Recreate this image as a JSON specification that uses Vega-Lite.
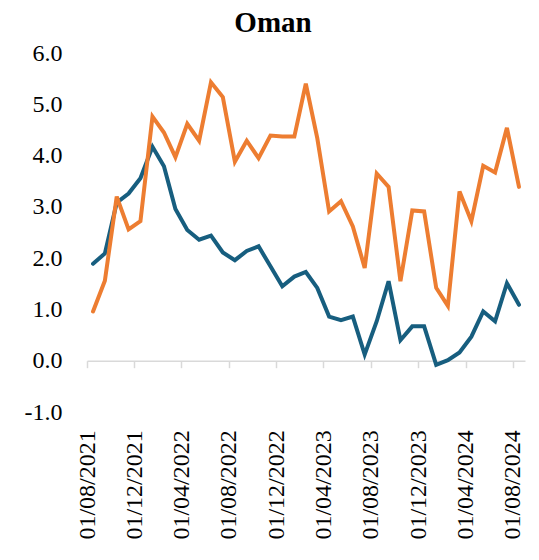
{
  "$schema": "https://vega.github.io/schema/vega-lite/v6.json",
  "autosize": "none",
  "width": 438,
  "height": 359,
  "padding": {"left": 87, "top": 53, "right": 14, "bottom": 148},
  "background": "white",
  "title": {"text": "Oman", "font": "Liberation Serif", "fontSize": 29, "fontWeight": "bold", "color": "black", "anchor": "middle", "frame": "group", "dx": -33, "offset": 3},
  "config": {"view": {"stroke": null}},
  "data": {"values": [
    {"date": "2021-08-01", "series": "Series 1", "value": 1.89},
    {"date": "2021-09-01", "series": "Series 1", "value": 2.09},
    {"date": "2021-10-01", "series": "Series 1", "value": 3.08},
    {"date": "2021-11-01", "series": "Series 1", "value": 3.26},
    {"date": "2021-12-01", "series": "Series 1", "value": 3.56},
    {"date": "2022-01-01", "series": "Series 1", "value": 4.17},
    {"date": "2022-02-01", "series": "Series 1", "value": 3.79},
    {"date": "2022-03-01", "series": "Series 1", "value": 2.96},
    {"date": "2022-04-01", "series": "Series 1", "value": 2.55},
    {"date": "2022-05-01", "series": "Series 1", "value": 2.36},
    {"date": "2022-06-01", "series": "Series 1", "value": 2.44},
    {"date": "2022-07-01", "series": "Series 1", "value": 2.11},
    {"date": "2022-08-01", "series": "Series 1", "value": 1.96},
    {"date": "2022-09-01", "series": "Series 1", "value": 2.14},
    {"date": "2022-10-01", "series": "Series 1", "value": 2.23},
    {"date": "2022-11-01", "series": "Series 1", "value": 1.84},
    {"date": "2022-12-01", "series": "Series 1", "value": 1.45},
    {"date": "2023-01-01", "series": "Series 1", "value": 1.64},
    {"date": "2023-02-01", "series": "Series 1", "value": 1.73},
    {"date": "2023-03-01", "series": "Series 1", "value": 1.42},
    {"date": "2023-04-01", "series": "Series 1", "value": 0.86},
    {"date": "2023-05-01", "series": "Series 1", "value": 0.79},
    {"date": "2023-06-01", "series": "Series 1", "value": 0.86},
    {"date": "2023-07-01", "series": "Series 1", "value": 0.12},
    {"date": "2023-08-01", "series": "Series 1", "value": 0.77},
    {"date": "2023-09-01", "series": "Series 1", "value": 1.55},
    {"date": "2023-10-01", "series": "Series 1", "value": 0.40},
    {"date": "2023-11-01", "series": "Series 1", "value": 0.67},
    {"date": "2023-12-01", "series": "Series 1", "value": 0.67},
    {"date": "2024-01-01", "series": "Series 1", "value": -0.08},
    {"date": "2024-02-01", "series": "Series 1", "value": 0.01},
    {"date": "2024-03-01", "series": "Series 1", "value": 0.16},
    {"date": "2024-04-01", "series": "Series 1", "value": 0.47},
    {"date": "2024-05-01", "series": "Series 1", "value": 0.96},
    {"date": "2024-06-01", "series": "Series 1", "value": 0.77},
    {"date": "2024-07-01", "series": "Series 1", "value": 1.51},
    {"date": "2024-08-01", "series": "Series 1", "value": 1.09},
    {"date": "2021-08-01", "series": "Series 2", "value": 0.96},
    {"date": "2021-09-01", "series": "Series 2", "value": 1.56},
    {"date": "2021-10-01", "series": "Series 2", "value": 3.20},
    {"date": "2021-11-01", "series": "Series 2", "value": 2.56},
    {"date": "2021-12-01", "series": "Series 2", "value": 2.72},
    {"date": "2022-01-01", "series": "Series 2", "value": 4.76},
    {"date": "2022-02-01", "series": "Series 2", "value": 4.45},
    {"date": "2022-03-01", "series": "Series 2", "value": 3.97},
    {"date": "2022-04-01", "series": "Series 2", "value": 4.62},
    {"date": "2022-05-01", "series": "Series 2", "value": 4.29},
    {"date": "2022-06-01", "series": "Series 2", "value": 5.43},
    {"date": "2022-07-01", "series": "Series 2", "value": 5.14},
    {"date": "2022-08-01", "series": "Series 2", "value": 3.88},
    {"date": "2022-09-01", "series": "Series 2", "value": 4.29},
    {"date": "2022-10-01", "series": "Series 2", "value": 3.95},
    {"date": "2022-11-01", "series": "Series 2", "value": 4.39},
    {"date": "2022-12-01", "series": "Series 2", "value": 4.37},
    {"date": "2023-01-01", "series": "Series 2", "value": 4.37},
    {"date": "2023-02-01", "series": "Series 2", "value": 5.40},
    {"date": "2023-03-01", "series": "Series 2", "value": 4.34},
    {"date": "2023-04-01", "series": "Series 2", "value": 2.91},
    {"date": "2023-05-01", "series": "Series 2", "value": 3.11},
    {"date": "2023-06-01", "series": "Series 2", "value": 2.62},
    {"date": "2023-07-01", "series": "Series 2", "value": 1.81},
    {"date": "2023-08-01", "series": "Series 2", "value": 3.65},
    {"date": "2023-09-01", "series": "Series 2", "value": 3.39},
    {"date": "2023-10-01", "series": "Series 2", "value": 1.55},
    {"date": "2023-11-01", "series": "Series 2", "value": 2.93},
    {"date": "2023-12-01", "series": "Series 2", "value": 2.91},
    {"date": "2024-01-01", "series": "Series 2", "value": 1.42},
    {"date": "2024-02-01", "series": "Series 2", "value": 1.07},
    {"date": "2024-03-01", "series": "Series 2", "value": 3.30},
    {"date": "2024-04-01", "series": "Series 2", "value": 2.72},
    {"date": "2024-05-01", "series": "Series 2", "value": 3.80},
    {"date": "2024-06-01", "series": "Series 2", "value": 3.67},
    {"date": "2024-07-01", "series": "Series 2", "value": 4.54},
    {"date": "2024-08-01", "series": "Series 2", "value": 3.39}
  ]},
  "mark": {"type": "line", "strokeWidth": 4, "strokeJoin": "miter", "strokeCap": "round"},
  "encoding": {
    "x": {
      "field": "date",
      "type": "temporal",
      "timeUnit": "utcyearmonth",
      "bandPosition": 0.5,
      "scale": {"domain": [{"year": 2021, "month": 8, "date": 1, "utc": true}, {"year": 2024, "month": 9, "date": 1, "utc": true}]},
      "axis": {
        "title": null,
        "values": [
          {"year": 2021, "month": 8, "date": 1, "utc": true},
          {"year": 2021, "month": 12, "date": 1, "utc": true},
          {"year": 2022, "month": 4, "date": 1, "utc": true},
          {"year": 2022, "month": 8, "date": 1, "utc": true},
          {"year": 2022, "month": 12, "date": 1, "utc": true},
          {"year": 2023, "month": 4, "date": 1, "utc": true},
          {"year": 2023, "month": 8, "date": 1, "utc": true},
          {"year": 2023, "month": 12, "date": 1, "utc": true},
          {"year": 2024, "month": 4, "date": 1, "utc": true},
          {"year": 2024, "month": 8, "date": 1, "utc": true}
        ],
        "labelExpr": "utcFormat(datum.value, '%d/%m/%Y')",
        "labelAngle": -90,
        "labelFont": "Liberation Serif",
        "labelFontSize": 24,
        "labelColor": "black",
        "labelPadding": 62,
        "labelOverlap": false,
        "labelFlush": false,
        "offset": -51.3,
        "grid": false,
        "domainColor": "#d9d9d9",
        "domainWidth": 1.5,
        "tickColor": "#d9d9d9",
        "tickWidth": 1.5,
        "tickSize": 7
      }
    },
    "y": {
      "field": "value",
      "type": "quantitative",
      "scale": {"domain": [-1, 6], "nice": false, "zero": false},
      "axis": {
        "title": null,
        "values": [-1, 0, 1, 2, 3, 4, 5, 6],
        "labelExpr": "replace(format(datum.value, '.1f'), '\u2212', '-')",
        "labelFont": "Liberation Serif",
        "labelFontSize": 24,
        "labelColor": "black",
        "labelPadding": 25,
        "domain": false,
        "ticks": false,
        "grid": false
      }
    },
    "color": {
      "field": "series",
      "type": "nominal",
      "scale": {"domain": ["Series 1", "Series 2"], "range": ["#175e7f", "#ed7d31"]},
      "legend": null
    }
  }
}
